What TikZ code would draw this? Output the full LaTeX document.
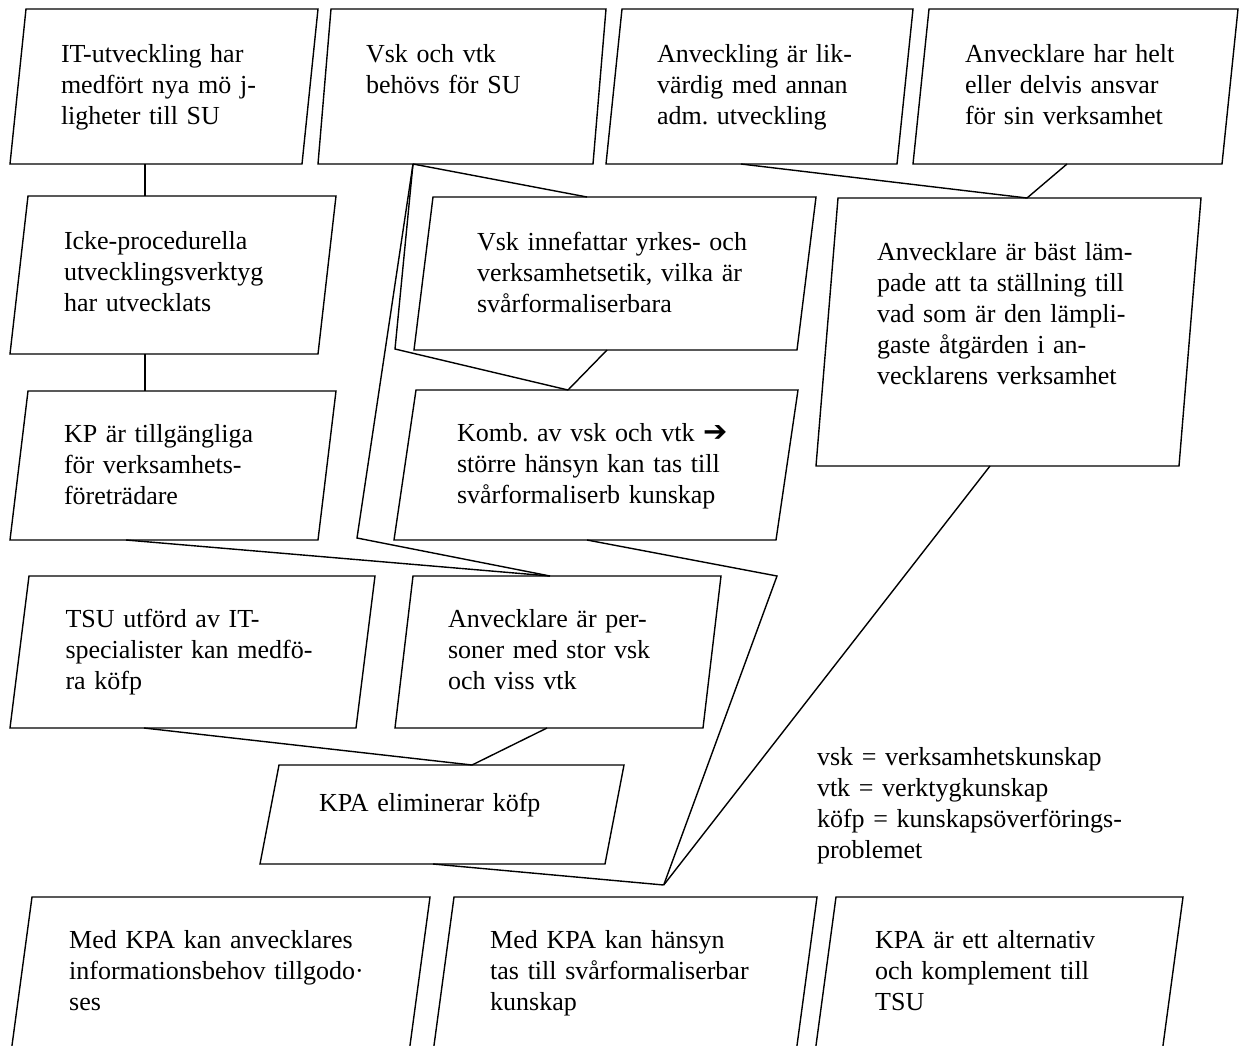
\documentclass[tikz,border=0pt]{standalone}
\usepackage{fontspec}
\setmainfont{Liberation Serif}
\newfontfamily\arrowfont{DejaVu Sans}

\begin{document}
\begin{tikzpicture}[
    x=1pt, y=-1pt,
    line width=1.4pt,
    card/.style={anchor=north west, align=left, inner xsep=43pt, inner ysep=0pt,
        outer sep=0pt, text height=53pt, font=\fontsize{26}{31}\selectfont\frenchspacing},
    link/.style={line join=miter}
]

\useasboundingbox (0,0) rectangle (1239,1045);
\clip (0,0) rectangle (1239,1045);

% Top row
\node[card, text width=206pt, text depth=102pt] (itdev) at (18,9)
    {IT-utveckling har\\medfört nya mö j-\\ligheter till SU};
\node[card, inner xsep=41.5pt, text width=192pt, text depth=102pt] (vskvtk) at (324.5,9)
    {Vsk och vtk\\behövs för SU};
\node[card, text width=205pt, text depth=102pt] (anvlik) at (614,9)
    {Anveckling är lik-\\värdig med annan\\adm. utveckling};
\node[card, inner xsep=44pt, text width=221pt, text depth=102pt] (ansvar) at (921,9)
    {Anvecklare har helt\\eller delvis ansvar\\för sin verksamhet};

% Second row
\node[card, inner xsep=45pt, text width=218pt, text depth=105pt] (icke) at (19,196)
    {Icke-procedurella\\utvecklingsverktyg\\har utvecklats};
\node[card, inner xsep=53.5pt, text width=276pt, text depth=100pt] (vskinne) at (423.5,197)
    {Vsk innefattar yrkes- och\\verksamhetsetik, vilka är\\svårformaliserbara};
\node[card, inner xsep=50pt, text width=263pt, text height=62pt, text depth=206pt] (tall) at (827,198)
    {Anvecklare är bäst läm-\\pade att ta ställning till\\vad som är den lämpli-\\gaste åtgärden i an-\\vecklarens verksamhet};

% Third row
\node[card, inner xsep=45pt, text width=218pt, text height=51pt, text depth=98pt] (kp) at (19,391)
    {KP är tillgängliga\\för verksamhets-\\företrädare};
\node[card, inner xsep=52pt, text width=278pt, text height=51pt, text depth=99pt] (komb) at (405,390)
    {Komb. av vsk och vtk {\arrowfont\fontsize{29}{31}\selectfont ➔}\\större hänsyn kan tas till\\svårformaliserb kunskap};

% Fourth row
\node[card, inner xsep=46pt, text width=254pt, text height=51pt, text depth=101pt] (tsu) at (19.5,576)
    {TSU utförd av IT-\\specialister kan medfö-\\ra köfp};
\node[card, inner xsep=44pt, text width=220pt, text height=51pt, text depth=101pt] (anvper) at (404,576)
    {Anvecklare är per-\\soner med stor vsk\\och viss vtk};

% KPA
\node[card, inner xsep=49.5pt, text width=246pt, text height=46pt, text depth=53pt] (kpa) at (269.5,765)
    {KPA eliminerar köfp};

% Bottom row
\node[card, inner xsep=50pt, text width=298pt, text height=51pt, text depth=139pt] (info) at (19.2,897)
    {Med KPA kan anvecklares\\informationsbehov tillgodo·\\ses};
\node[card, inner xsep=49pt, text width=265pt, text height=51pt, text depth=139pt] (hansyn) at (441.2,897)
    {Med KPA kan hänsyn\\tas till svårformaliserbar\\kunskap};
\node[card, inner xsep=52pt, text width=243pt, text height=51pt, text depth=139pt] (alt) at (823.2,897)
    {KPA är ett alternativ\\och komplement till\\TSU};

% Abbreviations
\node[card, inner xsep=0pt, text height=18pt, text width=340pt] (abbr) at (817,747)
    {vsk = verksamhetskunskap\\vtk = verktygkunskap\\köfp = kunskapsöverförings-\\problemet};

% Slanted outlines
\foreach \n/\s in {itdev/8, vskvtk/6.5, anvlik/8, ansvar/8, icke/9, vskinne/9.5, tall/11,
        kp/9, komb/11, tsu/9.5, anvper/9, kpa/9.5, info/12.8, hansyn/12.8, alt/12.8}
    \draw ([xshift=-\s]\n.south west) -- ([xshift=-\s]\n.south east)
        -- ([xshift=\s]\n.north east) -- ([xshift=\s]\n.north west) -- cycle;

% Connectors
\coordinate (join) at ([xshift=41,yshift=12]hansyn.north);

\draw[link] ([xshift=-19]itdev.south) -- ([xshift=-28]icke.north);
\draw[link] ([xshift=-28]icke.south) -- ([xshift=-28]kp.north);
\draw[link] ([xshift=-49]vskvtk.south) -- ([xshift=-28]vskinne.north);
\draw[link] ([xshift=-49]vskvtk.south) -- (395,349) -- ([xshift=-28]komb.north);
\draw[link] ([xshift=-49]vskvtk.south) -- (357,538) -- ([xshift=-8]anvper.north);
\draw[link] ([xshift=-8]vskinne.south) -- ([xshift=-28]komb.north);
\draw[link] ([xshift=-47]kp.south) -- ([xshift=-8]anvper.north);
\draw[link] ([xshift=-9]komb.south) -- (777,576) -- (join);
\draw[link] ([xshift=-18.5]anvlik.south) -- ([xshift=18.5]tall.north);
\draw[link] ([xshift=-8.5]ansvar.south) -- ([xshift=18.5]tall.north);
\draw[link] ([xshift=-18.5]tall.south) -- (join);
\draw[link] ([xshift=-48.5]tsu.south) -- ([xshift=30]kpa.north);
\draw[link] ([xshift=-11]anvper.south) -- ([xshift=30]kpa.north);
\draw[link] ([xshift=-9]kpa.south) -- (join);

\end{tikzpicture}
\end{document}
